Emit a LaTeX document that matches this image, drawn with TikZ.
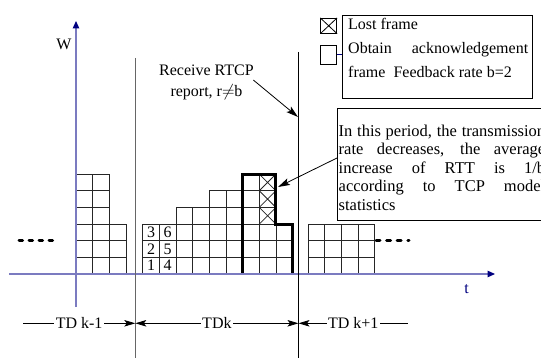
\documentclass[tikz,border=0pt]{standalone}
\usepackage{fontspec}
\setmainfont{Liberation Serif}
\usetikzlibrary{arrows.meta}
\definecolor{axisc}{HTML}{7B7BC0}
\definecolor{navyc}{HTML}{000080}
\begin{document}
\begin{tikzpicture}[x=1pt,y=-1pt,
  every node/.style={inner sep=0pt},
  txt/.style={font=\fontsize{16}{19}\selectfont},
  cell/.style={draw=black!85,line width=0.75pt},
  axis/.style={draw=axisc,line width=1.2pt,-{Triangle[length=7.5pt,width=6.5pt,color=navyc]}},
  thin/.style={line width=0.8pt},
  heavydots/.style={line width=3pt,line cap=round,dash pattern=on 3.6pt off 6.4pt},
  thickout/.style={line width=3pt,line join=miter},
  boxn/.style={draw,line width=0.8pt,minimum width=#1}
]
\clip (0,0) rectangle (541,358);
% grid block 1
\foreach \i/\h in {0/6,1/6,2/3}{
  \foreach \j in {1,...,\h}{
    \draw[cell] ({76+\i*16.65},{274-(\j-1)*16.65}) rectangle ++(16.65,-16.65);
  }
}
% grid block 2
\foreach \i/\h in {0/3,1/3,2/4,3/4,4/5,5/5,6/6,7/6,8/3}{
  \foreach \j in {1,...,\h}{
    \draw[cell] ({142.7+\i*16.65},{274-(\j-1)*16.65}) rectangle ++(16.65,-16.65);
  }
}
% lost frames
\foreach \j in {4,5,6}{
  \draw[cell] ({142.7+7*16.65},{274-(\j-1)*16.65}) -- ++(16.65,-16.65)
              ({142.7+8*16.65},{274-(\j-1)*16.65}) -- ++(-16.65,-16.65);
}
% grid block 3
\foreach \i in {0,...,3}{
  \foreach \j in {1,2,3}{
    \draw[cell] ({308+\i*16.65},{274-(\j-1)*16.65}) rectangle ++(16.65,-16.65);
  }
}
% numbers
\node[txt] (n1) at (151.0,265.7) {1};
\node[txt] (n2) at (151.0,249.0) {2};
\node[txt] (n3) at (151.0,232.4) {3};
\node[txt] (n4) at (167.7,265.7) {4};
\node[txt] (n5) at (167.7,249.0) {5};
\node[txt] (n6) at (167.7,232.4) {6};
% thick outline
\draw[thickout] (242.6,274) -- (242.6,174.1) -- (275.9,174.1) -- (275.9,224.05) -- (292.55,224.05) -- (292.55,274);
% dots
\draw[heavydots] (19,240.7) -- (58,240.7);
\draw[heavydots,dash pattern=on 4pt off 6.6pt] (376,240.5) -- (409,240.5);
% axes
\coordinate (yb) at (76,307);
\coordinate (yt) at (76,21);
\coordinate (xl) at (9,274);
\coordinate (xr) at (495,274);
\draw[axis] (yb) -- (yt);
\draw[axis] (xl) -- (xr);
\node[txt] (wlbl) at (64,44.6) {W};
\node[txt,text=navyc,anchor=base] (tlbl) at (466.7,293) {t};
% vertical period lines
\coordinate (v1t) at (135.3,58);
\coordinate (v1b) at (135.3,358);
\coordinate (v2t) at (298.5,52);
\coordinate (v2b) at (298.5,358);
\draw[line width=1pt,draw=black!60] (v1t) -- (v1b);
\draw[line width=1pt] (v2t) -- (v2b);
% dimension lines
\coordinate (dA) at (23,323.3);
\coordinate (dB) at (135.3,323.3);
\coordinate (dC) at (298.5,323.3);
\coordinate (dD) at (408,323.3);
\draw[thin,-{Stealth[length=11pt,width=6.5pt,inset=2.5pt]}] (dA) -- node[txt,fill=white,inner xsep=1.5pt,inner ysep=2pt] (tdkm) {TD k-1} (dB);
\draw[thin,{Stealth[length=11pt,width=6.5pt,inset=2.5pt]}-{Stealth[length=11pt,width=6.5pt,inset=2.5pt]}] (dB) -- node[txt,fill=white,inner xsep=1.5pt,inner ysep=2pt] (tdk) {TDk} (dC);
\draw[thin,{Stealth[length=11pt,width=6.5pt,inset=2.5pt]}-] (dC) -- node[txt,fill=white,inner xsep=1.5pt,inner ysep=2pt] (tdkp) {TD k+1} (dD);
% receive RTCP
\node[txt,align=center,font=\fontsize{16}{20.7}\selectfont,anchor=north] (recv) at (206.5,65) {Receive RTCP\\report, r$\neq$b};
\coordinate (recvA) at (253.3,80);
\coordinate (recvB) at (298,117);
\draw[thin,-{Stealth[length=12pt,width=7pt,inset=2.5pt]}] (recvA) -- (recvB);
% legend
\node[boxn=16pt,minimum height=15pt] (lostbox) at (328.7,25.8) {};
\draw[thin] (lostbox.north west) -- (lostbox.south east) (lostbox.south west) -- (lostbox.north east);
\node[boxn=16pt,minimum height=19.3pt] (ackbox) at (328.7,54.7) {};
\node[boxn=189.6pt,minimum height=83.3pt] (legbox) at (437.5,56.65) {};
\draw[thin,draw=navyc] (ackbox.east) -- (ackbox.east -| legbox.west);
\node[txt,font=\fontsize{16}{24}\selectfont,text width=180pt,align=justify,anchor=north west] (legtxt) at (348,18) {Lost frame\\Obtain acknowledgement\linebreak frame\ \ Feedback rate b=2};
% note box
\node[boxn=208pt,minimum height=111.7pt] (notebox) at (441,164.15) {};
\node[txt,font=\fontsize{16.5}{18.5}\selectfont,text width=206.5pt,align=justify,anchor=north west] (notetxt) at (338.5,124.7) {In this period, the transmission\linebreak rate decreases, the average\linebreak increase of RTT is 1/b\linebreak according to TCP model\linebreak statistics};
\coordinate (noteA) at (337,158);
\coordinate (lostpt) at (278,187);
\draw[thin,-{Stealth[length=12pt,width=7pt,inset=2.5pt]}] (noteA) -- (lostpt);
\end{tikzpicture}
\end{document}
